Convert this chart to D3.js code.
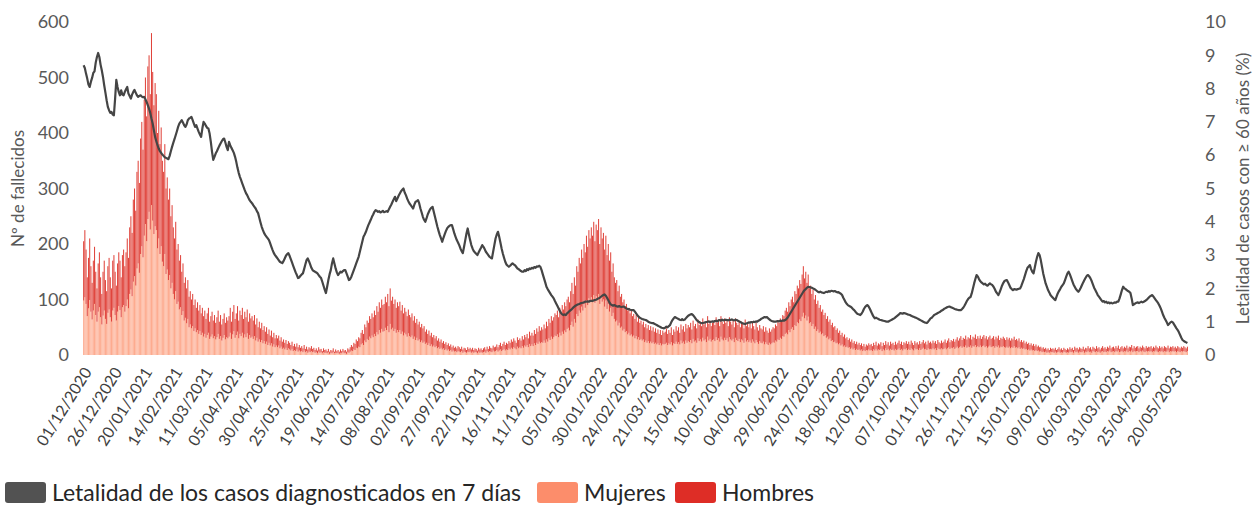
<!DOCTYPE html>
<html>
<head>
<meta charset="utf-8">
<script src="https://cdn.jsdelivr.net/npm/d3@7"></script>
<style>
  body { margin: 0; background: #fff; }
  svg { display: block; font-family: Lato, "Noto Sans", sans-serif; }
</style>
</head>
<body>
<div id="chart"></div>
<script>
// daily deaths by sex (from 01/12/2020), rows of 10 days
var mujeres = [
98,104,92,70,84,99,78,64,80,92,
72,60,78,86,68,55,71,80,65,56,
76,82,68,60,80,85,72,62,78,88,
81,68,86,90,78,88,100,84,110,118,
106,132,142,125,156,165,148,182,196,176,
215,236,205,245,258,226,270,242,218,232,
225,192,210,182,196,168,160,182,146,154,
135,144,120,130,110,100,115,92,96,82,
86,72,79,62,67,57,65,50,55,48,
52,43,48,41,45,38,43,36,40,33,
38,31,36,40,29,33,37,30,34,28,
32,38,29,34,26,31,36,28,32,30,
33,40,29,37,43,31,36,42,30,38,
34,40,31,37,32,39,29,36,31,33,
29,34,26,31,24,28,23,27,21,25,
20,24,18,22,17,21,15,19,14,17,
14,17,12,15,11,13,10,13,9,12,
10,8,11,7,9,7,10,6,8,6,
7,5,8,5,7,4,6,5,7,5,
6,4,5,3,6,4,5,3,5,4,
4,3,5,2,4,3,5,3,4,3,
4,2,4,3,5,3,4,2,5,4,
6,8,7,10,9,13,12,15,14,19,
21,18,26,23,29,27,33,30,35,32,
38,34,41,37,45,40,47,42,43,49,
45,52,41,56,46,49,43,47,40,45,
41,45,38,42,35,40,37,33,39,34,
32,35,29,33,27,31,26,28,23,26,
22,24,20,22,18,21,16,19,15,17,
14,16,12,14,11,13,10,12,9,11,
8,10,7,9,6,8,6,7,5,7,
6,5,7,4,6,5,4,6,5,6,
4,6,4,5,5,3,6,4,5,4,
5,6,4,7,5,7,6,5,8,6,
7,9,6,8,10,7,9,11,8,10,
9,12,10,13,11,14,12,10,15,12,
14,12,16,13,17,15,18,14,20,16,
19,16,21,18,22,20,24,21,23,22,
26,22,28,24,30,27,33,29,32,35,
34,37,32,40,35,42,38,44,41,47,
49,44,54,60,51,65,58,74,70,80,
76,87,80,92,85,98,90,102,96,104,
98,108,94,106,102,110,92,104,96,100,
87,98,83,92,78,85,70,76,65,60,
62,53,58,49,51,44,47,41,43,37,
40,35,37,33,35,30,34,28,32,27,
29,26,28,23,26,22,25,21,24,21,
23,20,22,19,21,18,21,17,20,19,
20,22,18,21,19,23,17,21,20,24,
20,23,19,26,21,24,20,26,22,25,
23,27,21,29,24,26,22,30,25,28,
24,31,26,28,23,33,26,29,24,27,
28,25,32,27,30,24,33,28,26,31,
27,30,24,32,28,26,29,23,31,27,
25,29,23,28,26,22,30,24,27,23,
26,22,28,24,21,27,23,20,25,22,
21,24,19,23,20,18,22,19,21,23,
22,26,24,28,27,31,29,34,33,38,
40,37,45,41,47,50,45,54,52,59,
57,64,61,69,76,66,71,62,69,57,
59,52,56,47,51,43,46,40,42,37,
39,34,36,31,33,28,30,25,27,23,
24,21,22,19,21,17,19,15,17,14,
15,13,14,11,13,10,12,9,11,9,
10,8,10,7,9,7,9,8,10,8,
9,7,10,8,11,8,10,9,11,7,
10,8,12,9,11,8,11,9,10,8,
11,9,10,12,9,11,8,11,10,12,
9,11,9,12,10,8,12,10,11,9,
12,9,11,13,10,11,9,12,10,11,
10,12,10,12,9,13,11,10,12,10,
11,13,10,12,14,11,13,12,14,11,
13,15,12,14,16,13,15,14,17,13,
15,14,17,13,16,15,18,14,16,14,
17,14,16,17,14,16,13,15,17,14,
15,16,13,16,14,17,13,15,14,16,
14,13,15,13,15,12,14,13,16,13,
14,12,14,11,13,11,12,10,11,9,
10,8,10,8,9,7,9,7,8,6,
7,5,6,5,6,4,5,4,6,5,
5,4,6,4,5,6,4,5,4,6,
5,4,5,4,6,5,6,4,7,5,
6,4,6,5,5,7,4,6,5,7,
5,6,4,7,6,5,7,5,6,4,
6,7,5,6,5,7,6,8,5,6,
7,5,7,6,8,5,6,7,5,7,
6,8,5,7,6,8,5,7,6,7,
7,5,7,6,8,6,5,7,6,7,
6,7,5,7,6,8,6,5,7,6,
7,5,7,6,6,8,5,7,6,7,
6,7,5,7,6,5,7,6,7,6,
5,7
];

var hombres = [
107,121,98,70,91,111,82,66,90,103,
78,60,87,99,72,55,79,90,70,59,
84,93,72,60,90,95,78,63,87,97,
89,72,94,100,82,97,110,91,120,132,
114,148,158,135,174,185,162,208,224,194,
245,264,225,275,282,244,310,268,232,258,
245,208,230,198,214,182,170,198,154,166,
145,156,130,140,120,110,125,98,104,88,
94,78,86,68,73,63,70,55,60,52,
58,47,52,44,50,42,47,39,45,37,
42,34,39,45,31,37,41,32,38,30,
36,42,31,38,29,34,39,30,36,32,
37,45,31,41,47,34,39,46,32,42,
38,45,34,41,36,43,31,39,35,37,
33,38,29,35,26,32,25,31,24,27,
22,26,20,24,18,23,17,21,16,19,
16,18,14,17,13,15,12,14,11,13,
12,10,13,9,11,8,11,8,10,7,
9,7,10,6,8,6,8,7,9,6,
7,5,7,5,8,6,6,4,7,5,
6,4,6,4,5,5,7,3,6,4,
5,4,6,4,6,5,5,4,7,6,
8,10,8,12,11,15,13,17,16,21,
24,20,29,27,33,31,37,35,40,36,
42,38,47,41,50,45,53,48,49,56,
50,58,47,64,52,56,49,53,45,50,
47,51,42,48,40,45,41,37,43,38,
36,40,33,37,31,34,29,32,27,30,
26,28,22,24,20,23,19,21,17,19,
16,18,14,16,13,15,12,13,11,12,
10,11,9,10,8,9,7,8,7,9,
8,6,8,6,7,7,5,8,6,7,
6,7,5,7,6,5,7,6,7,5,
7,8,6,8,6,9,7,7,9,8,
8,10,8,10,12,9,11,13,10,12,
11,13,12,15,13,16,14,12,17,15,
16,14,18,15,19,17,20,16,22,19,
21,19,24,20,26,22,28,23,27,24,
29,26,32,28,35,31,37,33,36,40,
38,43,36,45,40,48,44,51,47,53,
56,51,61,70,59,75,67,86,80,95,
89,103,95,108,100,117,105,123,114,126,
117,132,111,129,123,135,108,126,114,120,
103,117,97,108,92,100,80,89,75,70,
73,62,67,56,59,51,53,47,49,43,
45,40,43,37,39,35,38,32,36,31,
33,29,32,27,30,26,29,24,28,23,
27,22,26,21,25,20,24,19,24,21,
22,26,20,24,21,27,19,25,22,28,
24,27,21,29,25,28,22,30,26,29,
27,31,25,33,28,30,26,34,29,32,
28,35,29,32,27,37,30,33,28,31,
32,29,36,31,34,28,37,32,30,35,
31,34,28,36,32,29,33,27,35,31,
29,33,27,32,30,26,34,28,31,27,
30,26,32,28,25,31,27,24,29,26,
25,28,23,27,24,22,26,23,25,27,
26,29,28,32,31,35,33,38,37,42,
45,41,50,47,53,55,50,61,58,66,
63,71,67,76,84,72,79,68,76,63,
66,58,62,53,57,49,52,45,48,41,
43,38,40,34,37,32,34,29,31,27,
28,24,26,21,23,19,21,18,20,16,
17,14,16,13,15,12,13,11,13,10,
12,10,11,9,11,8,10,9,11,10,
11,9,12,10,13,9,11,10,12,9,
12,10,13,10,12,9,13,11,12,10,
13,10,12,14,11,13,10,12,11,13,
11,13,10,14,12,10,13,11,12,10,
13,11,12,14,11,13,10,14,12,13,
11,14,12,13,11,14,12,11,14,12,
13,15,12,14,16,12,14,13,15,13,
15,17,14,16,18,14,16,15,18,15,
17,16,19,15,17,16,19,15,18,16,
18,15,17,19,16,18,15,17,18,15,
16,18,15,17,16,18,14,16,15,17,
16,14,17,15,16,14,16,15,17,14,
15,14,16,13,14,12,14,11,13,11,
12,10,11,9,11,9,10,8,9,8,
8,7,8,6,7,6,7,5,7,6,
7,6,7,5,6,8,6,7,5,7,
6,5,7,6,8,6,7,5,8,7,
7,6,8,7,6,8,6,7,7,9,
7,8,6,8,7,6,9,7,8,6,
7,9,7,8,6,8,7,9,7,8,
8,7,9,7,9,6,8,9,7,8,
7,9,7,8,8,10,7,9,7,8,
9,7,8,7,9,8,7,9,7,8,
8,9,7,8,7,9,8,7,9,7,
8,7,9,8,7,9,7,8,8,9,
7,8,7,9,8,7,8,7,9,8,
7,8
];

// lethality of cases >= 60 years, 7-day window (%)
var letalidad = [
8.70,8.62,8.45,8.30,8.12,8.05,8.20,8.32,8.47,8.52,
8.78,8.95,9.07,8.95,8.72,8.55,8.35,8.10,7.88,7.65,
7.45,7.35,7.27,7.30,7.22,7.20,7.70,8.26,8.05,7.90,
7.80,7.95,7.82,7.80,7.90,7.98,8.05,7.85,7.78,7.70,
7.82,7.90,7.96,7.88,7.80,7.75,7.78,7.80,7.76,7.74,
7.75,7.68,7.60,7.50,7.40,7.27,7.10,6.95,6.75,6.55,
6.42,6.30,6.20,6.12,6.07,6.02,5.98,5.94,5.92,5.90,
5.88,5.98,6.12,6.25,6.37,6.48,6.60,6.72,6.85,6.95,
7.00,7.05,6.98,6.90,6.85,6.92,7.05,7.10,7.12,7.15,
7.05,6.95,6.85,6.90,6.80,6.70,6.62,6.55,6.80,7.00,
6.95,6.88,6.82,6.80,6.65,6.40,6.10,5.86,5.95,6.05,
6.12,6.20,6.28,6.35,6.42,6.48,6.50,6.38,6.25,6.15,
6.40,6.30,6.22,6.15,6.07,5.95,5.80,5.62,5.47,5.35,
5.25,5.15,5.05,4.95,4.86,4.80,4.72,4.65,4.60,4.56,
4.50,4.45,4.40,4.32,4.26,4.12,3.98,3.85,3.75,3.66,
3.60,3.55,3.50,3.45,3.35,3.25,3.15,3.06,3.00,2.95,
2.90,2.85,2.80,2.78,2.76,2.82,2.90,2.98,3.03,3.06,
2.98,2.88,2.78,2.68,2.58,2.48,2.40,2.31,2.33,2.38,
2.42,2.45,2.58,2.72,2.85,2.90,2.82,2.72,2.62,2.55,
2.52,2.50,2.48,2.45,2.40,2.35,2.31,2.20,2.08,1.96,
1.86,2.05,2.25,2.42,2.55,2.75,2.90,2.75,2.60,2.48,
2.40,2.45,2.50,2.48,2.52,2.55,2.55,2.45,2.35,2.25,
2.28,2.35,2.45,2.55,2.65,2.75,2.85,2.95,3.10,3.25,
3.40,3.55,3.62,3.70,3.80,3.90,3.98,4.06,4.15,4.22,
4.30,4.35,4.33,4.30,4.32,4.28,4.30,4.33,4.29,4.30,
4.32,4.30,4.38,4.45,4.52,4.60,4.68,4.75,4.62,4.70,
4.78,4.85,4.92,4.96,5.00,4.88,4.80,4.70,4.62,4.55,
4.50,4.45,4.40,4.52,4.60,4.62,4.65,4.55,4.40,4.28,
4.15,4.06,4.00,4.10,4.22,4.30,4.38,4.42,4.45,4.30,
4.15,4.00,3.85,3.72,3.60,3.50,3.40,3.52,3.62,3.72,
3.80,3.85,3.88,3.90,3.90,3.78,3.65,3.55,3.45,3.38,
3.30,3.20,3.12,3.06,3.25,3.45,3.65,3.80,3.62,3.45,
3.30,3.20,3.12,3.08,3.04,3.00,3.08,3.15,3.22,3.30,
3.25,3.18,3.10,3.05,3.00,2.95,2.92,2.90,3.10,3.30,
3.50,3.62,3.70,3.55,3.38,3.20,3.05,2.92,2.80,2.72,
2.68,2.65,2.68,2.72,2.75,2.72,2.70,2.65,2.60,2.58,
2.55,2.52,2.50,2.50,2.55,2.52,2.58,2.55,2.60,2.58,
2.62,2.60,2.64,2.62,2.66,2.65,2.68,2.65,2.55,2.42,
2.30,2.18,2.05,1.98,1.92,1.86,1.80,1.75,1.70,1.62,
1.55,1.48,1.40,1.33,1.26,1.22,1.20,1.22,1.20,1.25,
1.28,1.32,1.35,1.38,1.42,1.45,1.48,1.50,1.52,1.53,
1.55,1.56,1.57,1.58,1.60,1.60,1.61,1.60,1.62,1.63,
1.62,1.64,1.65,1.66,1.68,1.70,1.72,1.75,1.78,1.80,
1.82,1.78,1.72,1.65,1.58,1.52,1.50,1.48,1.50,1.48,
1.46,1.45,1.47,1.45,1.44,1.45,1.45,1.42,1.40,1.38,
1.38,1.36,1.35,1.35,1.35,1.30,1.25,1.20,1.15,1.12,
1.10,1.08,1.07,1.06,1.05,1.03,1.00,0.98,0.97,0.96,
0.96,0.94,0.92,0.90,0.88,0.86,0.84,0.82,0.81,0.80,
0.82,0.85,0.83,0.87,0.90,0.98,1.05,1.10,1.14,1.12,
1.10,1.08,1.06,1.05,1.08,1.05,1.06,1.10,1.14,1.18,
1.20,1.22,1.23,1.20,1.15,1.10,1.05,1.02,0.99,0.97,
0.96,0.96,0.97,0.98,0.99,1.00,1.01,0.99,1.00,1.01,
1.00,1.02,1.03,1.01,1.04,1.05,1.03,1.06,1.04,1.05,
1.06,1.05,1.04,1.06,1.05,1.07,1.05,1.04,1.06,1.05,
1.03,1.01,0.99,0.97,0.95,0.94,0.93,0.95,0.96,0.98,
0.97,0.99,0.98,1.00,0.99,1.01,1.00,1.03,1.05,1.08,
1.10,1.12,1.14,1.13,1.14,1.10,1.07,1.04,1.02,1.01,
1.00,1.00,1.01,1.02,1.01,1.03,1.02,1.04,1.03,1.05,
1.08,1.12,1.18,1.24,1.30,1.36,1.42,1.48,1.54,1.60,
1.66,1.72,1.78,1.84,1.90,1.95,1.98,2.02,2.05,2.04,
2.03,2.02,2.00,1.98,1.96,1.93,1.90,1.88,1.90,1.88,
1.87,1.86,1.88,1.90,1.89,1.92,1.90,1.93,1.92,1.91,
1.92,1.90,1.88,1.89,1.86,1.84,1.80,1.72,1.65,1.58,
1.53,1.49,1.47,1.45,1.42,1.38,1.35,1.30,1.26,1.23,
1.22,1.20,1.24,1.30,1.38,1.44,1.48,1.50,1.45,1.38,
1.30,1.22,1.15,1.10,1.12,1.10,1.08,1.06,1.05,1.04,
1.03,1.02,1.01,1.00,1.00,1.02,1.04,1.06,1.08,1.10,
1.13,1.16,1.19,1.22,1.26,1.25,1.24,1.26,1.25,1.24,
1.22,1.21,1.20,1.18,1.16,1.15,1.13,1.12,1.10,1.08,
1.06,1.04,1.02,1.00,0.98,0.97,0.96,1.00,1.05,1.10,
1.12,1.16,1.20,1.22,1.24,1.26,1.28,1.30,1.33,1.35,
1.38,1.40,1.42,1.44,1.45,1.45,1.43,1.42,1.40,1.38,
1.37,1.36,1.35,1.35,1.35,1.38,1.42,1.48,1.55,1.62,
1.68,1.72,1.74,1.85,2.00,2.15,2.28,2.40,2.36,2.28,
2.22,2.18,2.15,2.12,2.14,2.10,2.08,2.12,2.15,2.12,
2.10,2.05,1.98,1.90,1.85,1.80,1.88,1.98,2.08,2.16,
2.22,2.24,2.25,2.18,2.10,2.02,1.98,1.95,1.98,1.97,
1.96,1.98,1.99,2.00,2.08,2.18,2.28,2.40,2.52,2.62,
2.66,2.70,2.58,2.50,2.45,2.62,2.80,2.95,3.06,3.00,
2.85,2.65,2.45,2.30,2.15,2.05,1.95,1.88,1.80,1.76,
1.72,1.68,1.65,1.75,1.85,1.92,1.98,2.05,2.10,2.15,
2.25,2.35,2.45,2.50,2.42,2.32,2.22,2.12,2.05,1.98,
1.94,1.90,1.95,2.02,2.10,2.18,2.25,2.32,2.38,2.40,
2.36,2.30,2.22,2.12,2.02,1.95,1.88,1.80,1.75,1.70,
1.65,1.60,1.62,1.58,1.60,1.56,1.58,1.55,1.57,1.55,
1.56,1.58,1.57,1.60,1.60,1.70,1.82,1.95,2.05,2.00,
1.98,1.95,1.92,1.90,1.86,1.70,1.50,1.52,1.55,1.57,
1.58,1.56,1.58,1.60,1.58,1.60,1.62,1.65,1.68,1.72,
1.76,1.78,1.80,1.75,1.70,1.65,1.60,1.55,1.48,1.40,
1.30,1.20,1.12,1.05,0.98,0.90,0.94,0.98,1.00,0.98,
0.92,0.86,0.80,0.75,0.68,0.60,0.52,0.45,0.42,0.40,
0.38,0.36
];

// one label every 25 days
var tickLabels = [
"01/12/2020","26/12/2020","20/01/2021","14/02/2021","11/03/2021","05/04/2021",
"30/04/2021","25/05/2021","19/06/2021","14/07/2021","08/08/2021","02/09/2021",
"27/09/2021","22/10/2021","16/11/2021","11/12/2021","05/01/2022","30/01/2022",
"24/02/2022","21/03/2022","15/04/2022","10/05/2022","04/06/2022","29/06/2022",
"24/07/2022","18/08/2022","12/09/2022","07/10/2022","01/11/2022","26/11/2022",
"21/12/2022","15/01/2023","09/02/2023","06/03/2023","31/03/2023","25/04/2023",
"20/05/2023"
];
var tickEvery = 25;

var legendLabels = ["Letalidad de los casos diagnosticados en 7 días", "Mujeres", "Hombres"];
var legendColors = ["#525252", "#fc8d6b", "#de2d26"];

var W = 1253, H = 505;
var margin = {top: 22, right: 65, bottom: 150, left: 83};
var n = Math.min(mujeres.length, hombres.length);

var svg = d3.select("#chart").append("svg")
    .attr("width", W)
    .attr("height", H);

var x = d3.scaleLinear()
    .domain([0, n])
    .range([margin.left, W - margin.right]);
var yL = d3.scaleLinear()
    .domain([0, 600])
    .range([H - margin.bottom, margin.top]);
var yR = d3.scaleLinear()
    .domain([0, 10])
    .range([H - margin.bottom, margin.top]);

var step = x(1) - x(0);

// stacked bars
var rows = d3.range(n).map(function(i) {
    return {i: i, mujeres: mujeres[i], hombres: hombres[i]};
});
var stack = d3.stack().keys(["mujeres", "hombres"])(rows);
var barColor = {mujeres: "#fdab8f", hombres: "#e0443c"};

svg.append("g").selectAll("g")
    .data(stack)
    .enter().append("g")
    .attr("fill", function(s) { return barColor[s.key]; })
    .selectAll("rect")
    .data(function(s) { return s; })
    .enter().append("rect")
    .attr("x", function(d) { return x(d.data.i) + step * 0.1; })
    .attr("width", step * 0.85)
    .attr("y", function(d) { return yL(d[1]); })
    .attr("height", function(d) { return yL(d[0]) - yL(d[1]); });

// lethality line
var line = d3.line()
    .x(function(d, i) { return x(i + 0.5); })
    .y(function(d) { return yR(d); });

svg.append("path")
    .datum(letalidad)
    .attr("fill", "none")
    .attr("stroke", "#454545")
    .attr("stroke-width", 2.2)
    .attr("stroke-linejoin", "round")
    .attr("d", line);

// left axis
var axL = svg.append("g")
    .attr("transform", "translate(" + (margin.left - 14) + ",0)")
    .call(d3.axisLeft(yL).tickValues(d3.range(0, 601, 100)).tickSize(0).tickPadding(0));
axL.select(".domain").remove();
axL.selectAll("text").attr("fill", "#595959").style("font-size", "18px").style("font-family", "Lato");

svg.append("text")
    .attr("transform", "translate(24," + ((yL(0) + yL(600)) / 2) + ") rotate(-90)")
    .attr("text-anchor", "middle")
    .attr("fill", "#595959")
    .style("font-size", "17px")
    .text("Nº de fallecidos");

// right axis
var axR = svg.append("g")
    .attr("transform", "translate(" + (W - margin.right + 17) + ",0)")
    .call(d3.axisRight(yR).tickValues(d3.range(0, 11, 1)).tickSize(0).tickPadding(0));
axR.select(".domain").remove();
axR.selectAll("text").attr("fill", "#595959").style("font-size", "18px").style("font-family", "Lato");

svg.append("text")
    .attr("transform", "translate(1249," + ((yR(0) + yR(10)) / 2) + ") rotate(-90)")
    .attr("text-anchor", "middle")
    .attr("fill", "#595959")
    .style("font-size", "17px")
    .text("Letalidad de casos con ≥ 60 años (%)");

// x labels
svg.append("g").selectAll("text")
    .data(tickLabels)
    .enter().append("text")
    .attr("transform", function(d, k) {
        return "translate(" + (x(k * tickEvery + 0.5) + 4) + "," + (yL(0) + 14) + ") rotate(-58)";
    })
    .attr("text-anchor", "end")
    .attr("dy", "0.35em")
    .attr("fill", "#404040")
    .style("font-size", "16px")
    .text(function(d) { return d; });

// legend (item x positions match the original layout)
var legendX = [5, 537, 675];
var lg = svg.append("g").attr("transform", "translate(0,482)");
var items = lg.selectAll("g")
    .data(legendLabels)
    .enter().append("g")
    .attr("transform", function(d, k) { return "translate(" + legendX[k] + ",0)"; });
items.append("rect")
    .attr("width", 41).attr("height", 21)
    .attr("rx", 3)
    .attr("fill", function(d, k) { return legendColors[k]; });
items.append("text")
    .attr("x", 47).attr("y", 18.5)
    .attr("fill", "#262626")
    .style("font-size", "23px")
    .text(function(d) { return d; });
</script>
</body>
</html>
